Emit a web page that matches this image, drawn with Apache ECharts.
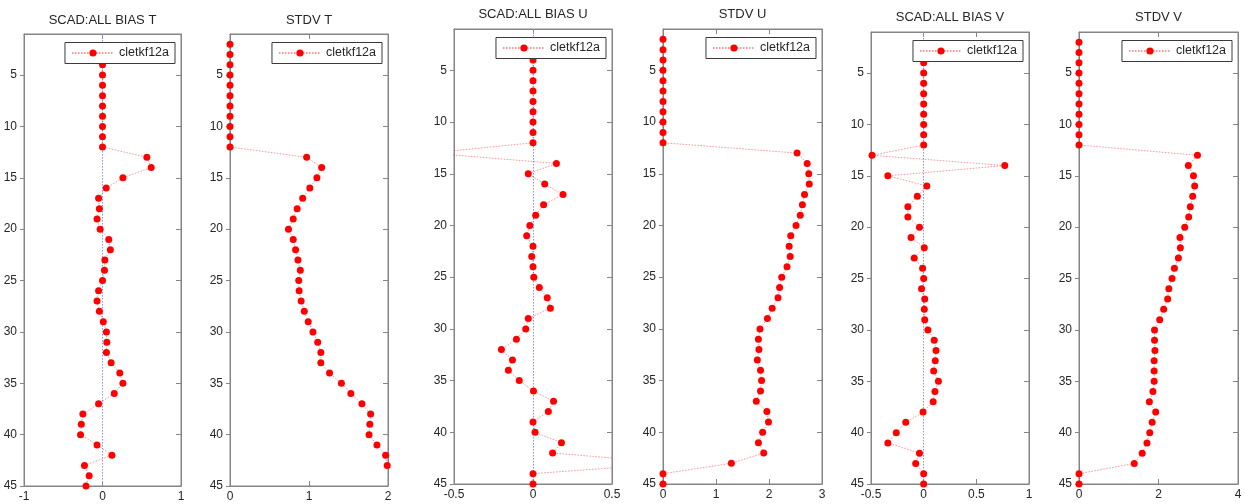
<!DOCTYPE html>
<html>
<head>
<meta charset="utf-8">
<script src="https://cdn.jsdelivr.net/npm/echarts@6/dist/echarts.min.js"></script>
<style>
html,body{margin:0;padding:0;background:#fff;}
#chart{width:1245px;height:504px;}
</style>
</head>
<body>
<div id="chart"></div>
<script>
// Model levels (y axis), levels 2..45
const levels = [2,3,4,5,6,7,8,9,10,11,12,13,14,15,16,17,18,19,20,21,22,23,24,25,26,27,28,29,30,31,32,33,34,35,36,37,38,39,40,41,42,43,44,45];
const yTickValues = [5,10,15,20,25,30,35,40,45];
const seriesName = 'cletkf12a';
const titles = ['SCAD:ALL BIAS T','STDV T','SCAD:ALL BIAS U','STDV U','SCAD:ALL BIAS V','STDV V'];

const biasT = [null,0,0,0,0,0,0,0,0,0,0,0.565,0.62,0.26,0.047,-0.05,-0.04,-0.07,-0.03,0.08,0.10,0.03,0.025,0,-0.05,-0.07,-0.04,0.01,0.05,0.055,0.05,0.11,0.22,0.26,0.15,-0.05,-0.25,-0.27,-0.28,-0.07,0.12,-0.23,-0.17,-0.21];
const stdvT = [0,0,0,0,0,0,0,0,0,0,0,0.97,1.16,1.10,1.01,0.92,0.85,0.80,0.74,0.80,0.83,0.86,0.89,0.87,0.875,0.90,0.94,0.99,1.05,1.11,1.15,1.15,1.26,1.41,1.53,1.67,1.78,1.77,1.76,1.86,1.97,1.99,null,null];
const biasU = [null,0,0,0,0,0,0,0,0,0,0,-0.65,0.148,-0.03,0.074,0.19,0.067,0.017,-0.02,-0.04,0,-0.008,0,0.005,0.04,0.09,0.11,-0.03,-0.046,-0.105,-0.2,-0.13,-0.156,-0.087,0.003,0.13,0.097,0,0.013,0.18,0.124,0.9,0,0];
const stdvU = [0,0,0,0,0,0,0,0,0,0,0,2.53,2.72,2.75,2.76,2.67,2.63,2.59,2.51,2.41,2.38,2.40,2.34,2.24,2.20,2.17,2.06,1.97,1.83,1.80,1.81,1.78,1.84,1.86,1.84,1.76,1.96,1.99,1.88,1.80,1.90,1.29,0,0];
const biasV = [null,0,0,0,0,0,0,0,0,0,0,-0.49,0.77,-0.34,0.03,-0.06,-0.15,-0.15,-0.04,-0.12,0.006,-0.09,-0.01,0,-0.02,0.01,0.006,0.01,0.04,0.10,0.117,0.11,0.095,0.14,0.107,0.09,-0.006,-0.17,-0.26,-0.34,-0.04,-0.076,0,0];
const stdvV = [0,0,0,0,0,0,0,0,0,0,0,2.98,2.75,2.88,2.91,2.86,2.80,2.76,2.66,2.54,2.55,2.50,2.40,2.34,2.26,2.23,2.13,2.03,1.90,1.90,1.91,1.89,1.89,1.89,1.86,1.77,1.93,1.84,1.78,1.71,1.59,1.39,0,0];

const xMins = [-1, 0, -0.5, 0, -0.5, 0];
const xMaxs = [1, 2, 0.5, 3, 1, 4];
const xIntervals = [1, 1, 0.5, 1, 0.5, 2];
const seriesValues = [biasT, stdvT, biasU, stdvU, biasV, stdvV];

// layout (pixels): left, top, width, height, title center y
const layout = [
  {l:24,  t:34, w:157, h:452, ty:22},
  {l:230, t:34, w:158, h:452, ty:22},
  {l:454, t:29, w:158, h:455, ty:16},
  {l:663, t:29, w:159, h:455, ty:16},
  {l:871, t:32, w:158, h:452, ty:19},
  {l:1079,t:32, w:159, h:452, ty:19}
];
const W = 1245;
const FONT = 'Liberation Sans, Arial, sans-serif';
const axisGray = '#858585';
const textCol = '#262626';

const option = {
  backgroundColor: '#ffffff',
  animation: false,
  title: [], grid: [], xAxis: [], yAxis: [], series: [], legend: []
};

layout.forEach((g, i) => {
  option.title.push({
    text: titles[i], left: g.l + g.w / 2, top: g.ty - 8, textAlign: 'center', padding: 0,
    textStyle: {fontFamily: FONT, fontSize: 13, fontWeight: 'normal', color: textCol}
  });
  option.grid.push({left: g.l, top: g.t, width: g.w, height: g.h, containLabel: false,
    show: true, borderColor: axisGray, borderWidth: 1, backgroundColor: '#fff'});
  option.xAxis.push({
    type: 'value', gridIndex: i, position: 'bottom', min: xMins[i], max: xMaxs[i], interval: xIntervals[i],
    axisLine: {show: true, onZero: false, lineStyle: {color: axisGray, width: 1}},
    axisTick: {show: true, inside: true, length: 5, lineStyle: {color: axisGray}},
    axisLabel: {show: true, margin: 5, fontFamily: FONT, fontSize: 12, color: textCol, showMinLabel: true, showMaxLabel: true},
    splitLine: {show: false}
  });
  option.xAxis.push({
    type: 'value', gridIndex: i, position: 'top', min: xMins[i], max: xMaxs[i], interval: xIntervals[i],
    axisLine: {show: true, onZero: false, lineStyle: {color: axisGray, width: 1}},
    axisTick: {show: true, inside: true, length: 5, lineStyle: {color: axisGray}},
    axisLabel: {show: false}, splitLine: {show: false}
  });
  option.yAxis.push({
    type: 'value', gridIndex: i, position: 'left', inverse: true, min: 1, max: 45,
    axisLine: {show: true, onZero: false, lineStyle: {color: axisGray, width: 1}},
    axisTick: {show: true, inside: false, length: 4, customValues: yTickValues, lineStyle: {color: axisGray}},
    axisLabel: {show: true, margin: 7, customValues: yTickValues, fontFamily: FONT, fontSize: 12, color: textCol},
    splitLine: {show: false}
  });
  option.yAxis.push({
    type: 'value', gridIndex: i, position: 'right', inverse: true, min: 1, max: 45,
    axisLine: {show: true, onZero: false, lineStyle: {color: axisGray, width: 1}},
    axisTick: {show: true, inside: true, length: 5, customValues: yTickValues, lineStyle: {color: axisGray}},
    axisLabel: {show: false, customValues: yTickValues}, splitLine: {show: false}
  });

  const vals = seriesValues[i];
  const pts = levels.map((lv, k) => [vals[k], lv]);
  const isBias = titles[i].indexOf('BIAS') >= 0;
  const s = {
    name: seriesName, type: 'line', xAxisIndex: 2 * i, yAxisIndex: 2 * i,
    data: pts, clip: true, connectNulls: false,
    symbol: 'circle', symbolSize: 7,
    itemStyle: {color: '#ff0000'},
    lineStyle: {color: 'rgba(255,60,60,0.55)', width: 1, type: [1.5, 1.5]},
    z: 3
  };
  if (isBias) {
    s.markLine = {
      silent: true, symbol: 'none', label: {show: false}, z: 1,
      lineStyle: {color: '#8c8cff', width: 1, type: [1.5, 1.5]},
      data: [{xAxis: 0}]
    };
  }
  option.series.push(s);

  option.legend.push({
    data: [seriesName], orient: 'horizontal', z: 20, zlevel: 0,
    right: W - (g.l + g.w) + 6, top: g.t + 8.5,
    backgroundColor: '#ffffff', borderColor: '#3a3a3a', borderWidth: 1, borderRadius: 0,
    padding: [4, 6, 4, 6], itemWidth: 42, itemHeight: 9, itemGap: 0,
    selectedMode: false,
    textStyle: {fontFamily: FONT, fontSize: 12.5, color: textCol}
  });
});

const chart = echarts.init(document.getElementById('chart'), null, {renderer: 'canvas'});
chart.setOption(option);
</script>
</body>
</html>
